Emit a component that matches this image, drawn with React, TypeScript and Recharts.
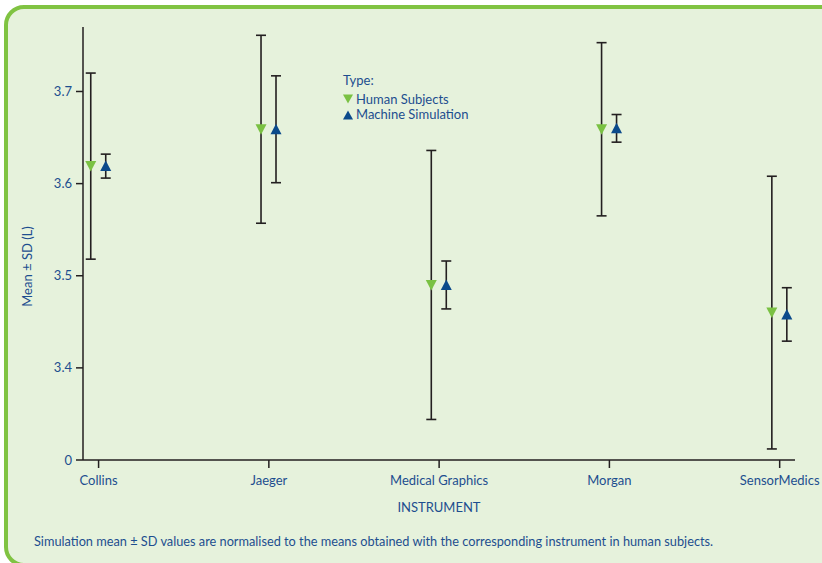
import { ScatterChart, Scatter, XAxis, YAxis, ErrorBar, Label } from "recharts";

const categories = ["Collins", "Jaeger", "Medical Graphics", "Morgan", "SensorMedics"];
const humanMean = [3.619, 3.659, 3.49, 3.659, 3.46];
const humanSD = [0.101, 0.102, 0.146, 0.094, 0.148];
const machineMean = [3.619, 3.659, 3.49, 3.66, 3.458];
const machineSD = [0.013, 0.058, 0.026, 0.015, 0.029];
const yTicks = [3.3, 3.4, 3.5, 3.6, 3.7];

const HUMAN_OFFSET = -0.046;
const MACHINE_OFFSET = 0.042;

const TEXT = "#1d4e8f";
const GREEN = "#7ac143";
const BLUE = "#0b4a8b";
const INK = "#231f20";
const BG = "#e6f2dc";
const FONT = "Lato, 'Noto Sans', sans-serif";

const humanData = categories.map((c, i) => ({
  name: c,
  x: i + HUMAN_OFFSET,
  y: humanMean[i],
  sd: humanSD[i],
}));
const machineData = categories.map((c, i) => ({
  name: c,
  x: i + MACHINE_OFFSET,
  y: machineMean[i],
  sd: machineSD[i],
}));

const DownTriangle = (props: any) => {
  const { cx, cy } = props;
  return (
    <polygon
      points={`${cx - 5.5},${cy - 5} ${cx + 5.5},${cy - 5} ${cx},${cy + 5.5}`}
      fill={GREEN}
    />
  );
};

const UpTriangle = (props: any) => {
  const { cx, cy } = props;
  return (
    <polygon
      points={`${cx - 5.5},${cy + 5} ${cx + 5.5},${cy + 5} ${cx},${cy - 5.5}`}
      fill={BLUE}
    />
  );
};

const YTitle = (props: any) => {
  const { viewBox } = props;
  const x = viewBox.x + 32;
  const y = viewBox.y + viewBox.height / 2 + 23;
  return (
    <text
      x={x}
      y={y}
      transform={`rotate(-90 ${x} ${y})`}
      textAnchor="middle"
      fill={TEXT}
      fontSize={13}
      fontFamily={FONT}
    >
      Mean ± SD (L)
    </text>
  );
};

const legendRow = { display: "flex", alignItems: "center", height: 15.5 } as const;

export default function App() {
  return (
    <div
      style={{
        position: "absolute",
        left: 0,
        top: 0,
        width: 822,
        height: 563,
        overflow: "hidden",
        fontFamily: FONT,
        color: TEXT,
      }}
    >
      <div
        style={{
          position: "absolute",
          left: 4,
          top: 5,
          width: 850,
          height: 562,
          boxSizing: "border-box",
          border: "4px solid #80c342",
          borderRadius: 20,
          background: BG,
        }}
      />
      <div style={{ position: "absolute", left: 0, top: 0 }}>
        <ScatterChart
          width={822}
          height={563}
          margin={{ top: 27, right: 27, bottom: 0, left: 0 }}
        >
          <XAxis
            type="number"
            dataKey="x"
            domain={[-0.0915, 4.09]}
            ticks={[0, 1, 2, 3, 4]}
            tickFormatter={(v: number) => categories[Math.round(v)]}
            allowDataOverflow
            height={103}
            tickSize={8}
            tickMargin={8}
            stroke={INK}
            strokeWidth={1.5}
            tick={{ fill: TEXT, fontSize: 13, fontFamily: FONT }}
          >
            <Label
              value="INSTRUMENT"
              position="insideTop"
              offset={43}
              fill={TEXT}
              fontSize={13}
              fontFamily={FONT}
            />
          </XAxis>
          <YAxis
            type="number"
            dataKey="y"
            domain={[3.3, 3.77]}
            ticks={yTicks}
            tickFormatter={(v: number) => (v === 3.3 ? "0" : v.toFixed(1))}
            allowDataOverflow
            width={83}
            tickSize={7}
            tickMargin={4}
            stroke={INK}
            strokeWidth={1.5}
            tick={{ fill: TEXT, fontSize: 13, fontFamily: FONT }}
          >
            <Label content={<YTitle />} />
          </YAxis>
          <Scatter
            name="Human Subjects"
            data={humanData}
            shape={<DownTriangle />}
            isAnimationActive={false}
          >
            <ErrorBar dataKey="sd" direction="y" width={5} stroke={INK} strokeWidth={1.6} />
          </Scatter>
          <Scatter
            name="Machine Simulation"
            data={machineData}
            shape={<UpTriangle />}
            isAnimationActive={false}
          >
            <ErrorBar dataKey="sd" direction="y" width={5} stroke={INK} strokeWidth={1.6} />
          </Scatter>
        </ScatterChart>
      </div>
      <div
        style={{
          position: "absolute",
          left: 343,
          top: 73,
          fontSize: 13,
          lineHeight: "15.5px",
        }}
      >
        <div style={{ height: 18.5 }}>Type:</div>
        <div style={legendRow}>
          <svg width={13} height={10}>
            <polygon points="0,0.5 10,0.5 5,9.5" fill={GREEN} />
          </svg>
          <span>Human Subjects</span>
        </div>
        <div style={legendRow}>
          <svg width={13} height={10}>
            <polygon points="0,9.5 10,9.5 5,0.5" fill={BLUE} />
          </svg>
          <span>Machine Simulation</span>
        </div>
      </div>
      <div
        style={{
          position: "absolute",
          left: 34,
          top: 535,
          fontSize: 12.75,
          lineHeight: "13px",
          whiteSpace: "nowrap",
        }}
      >
        Simulation mean ± SD values are normalised to the means obtained with the corresponding
        instrument in human subjects.
      </div>
    </div>
  );
}
